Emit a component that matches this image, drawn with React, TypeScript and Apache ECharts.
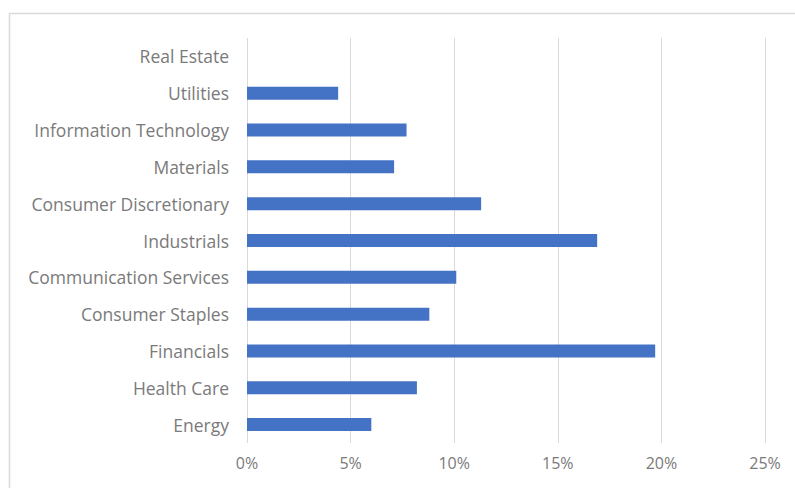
import React, { useEffect, useRef } from "react";
import * as echarts from "echarts";

const categories = [
  "Energy",
  "Health Care",
  "Financials",
  "Consumer Staples",
  "Communication Services",
  "Industrials",
  "Consumer Discretionary",
  "Materials",
  "Information Technology",
  "Utilities",
  "Real Estate",
];
const values = [6.0, 8.2, 19.7, 8.8, 10.1, 16.9, 11.3, 7.1, 7.7, 4.4, 0];
const xTicks = [0, 5, 10, 15, 20, 25];

export default function App() {
  const ref = useRef<HTMLDivElement>(null);
  useEffect(() => {
    document.body.style.margin = "0";
    const chart = echarts.init(ref.current!, null, { renderer: "svg" });
    const font = "'Open Sans', 'Noto Sans', sans-serif";
    chart.setOption({
      animation: false,
      backgroundColor: "#ffffff",
      graphic: [
        {
          type: "rect",
          shape: { x: 9.5, y: 13.5, width: 800, height: 500 },
          style: { fill: "none", stroke: "#d9d9d9", lineWidth: 1.5 },
          silent: true,
        },
      ],
      grid: { left: 247, right: 30, top: 38, bottom: 45 },
      xAxis: {
        type: "value",
        min: xTicks[0],
        max: xTicks[xTicks.length - 1],
        interval: 5,
        axisLine: { show: false },
        axisTick: { show: false },
        splitLine: { show: true, lineStyle: { color: "#d9d9d9", width: 1 } },
        axisLabel: {
          formatter: (v: number) => v + "%",
          color: "#7a7a7a",
          fontSize: 16,
          fontFamily: font,
          margin: 12,
        },
      },
      yAxis: {
        type: "category",
        data: categories,
        axisLine: { show: false },
        axisTick: { show: false },
        splitLine: { show: false },
        axisLabel: {
          color: "#7a7a7a",
          fontSize: 17.5,
          fontFamily: font,
          margin: 18,
        },
      },
      series: [
        {
          type: "bar",
          data: values,
          barWidth: 13,
          itemStyle: { color: "#4472c4" },
        },
      ],
    });
    return () => chart.dispose();
  }, []);
  return <div ref={ref} style={{ width: 795, height: 488 }} />;
}
